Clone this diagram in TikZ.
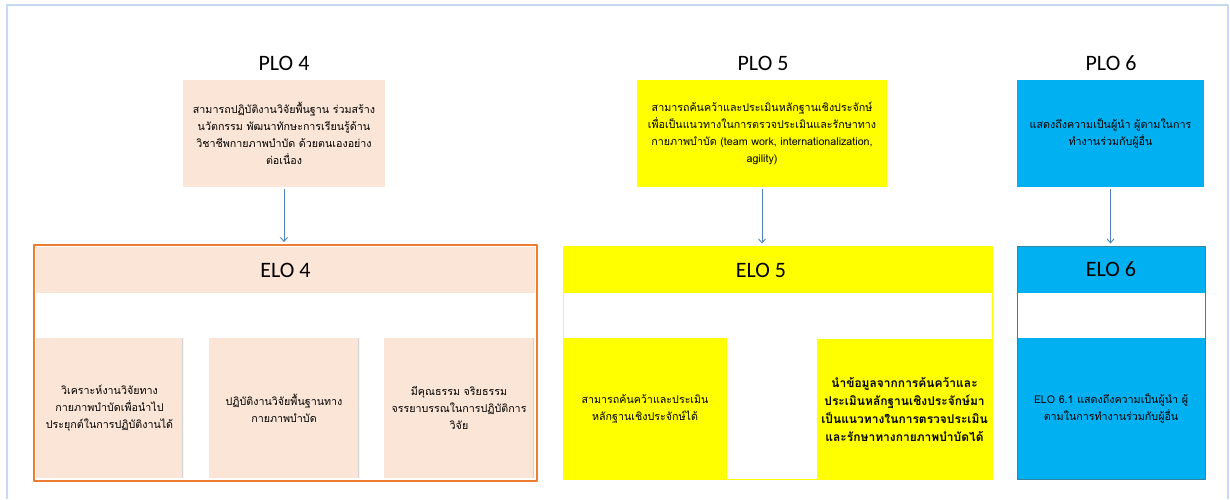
\documentclass[tikz,border=0pt]{standalone}
\usepackage{fontspec}
\setmainfont{Carlito}
\newfontfamily\thaifont[Script=Thai]{Loma}
\usetikzlibrary{arrows.meta}
\definecolor{peach}{HTML}{FBE5D6}
\definecolor{elorange}{HTML}{ED7D31}
\definecolor{eloyellow}{HTML}{FFFF00}
\definecolor{eloblue}{HTML}{00B0F0}
\definecolor{eloteal}{HTML}{31859C}
\definecolor{arrowblue}{HTML}{4F81BD}
\definecolor{frameblue}{HTML}{C6D9F1}
\tikzset{
  title/.style={font=\normalfont\fontsize{22}{26}\selectfont, inner sep=0pt},
  plobox/.style={inner sep=0pt, minimum height=107, align=center},
  headband/.style={inner sep=0pt, minimum height=46, font=\normalfont\fontsize{22}{26}\selectfont},
  subbox/.style={inner sep=0pt, minimum height=140, align=center},
  shade/.style={path picture={\draw[black!18, line width=1.5pt]
    (path picture bounding box.north east) -- (path picture bounding box.south east);}},
  link/.style={->, arrowblue, line width=0.9pt, shorten <=2pt, shorten >=2pt}
}
\begin{document}
\begin{tikzpicture}[x=1pt, y=-1pt, font=\thaifont\fontsize{10.7}{17}\selectfont,
  line join=round, >={Straight Barb[length=4pt,width=7pt]}]
 \useasboundingbox (0,0) rectangle (1230,499);
 \draw[frameblue, line width=1.5pt] (7,499) -- (7,5) -- (1228,5) -- (1228,499);
 % PLO row
 \node[title] (t4) at (284,63) {PLO 4};
 \node[title] (t5) at (763,63) {PLO 5};
 \node[title] (t6) at (1111,63) {PLO 6};
 \node[plobox, fill=peach, minimum width=202] (plo4) at (284,133.5)
  {สามารถปฏิบัติงานวิจัยพื้นฐาน ร่วมสร้าง\\นวัตกรรม พัฒนาทักษะการเรียนรู้ด้าน\\วิชาชีพกายภาพบำบัด ด้วยตนเองอย่าง\\ต่อเนื่อง};
 \node[plobox, fill=eloyellow, minimum width=250] (plo5) at (762,133.5)
  {สามารถค้นคว้าและประเมินหลักฐานเชิงประจักษ์\\เพื่อเป็นแนวทางในการตรวจประเมินและรักษาทาง\\กายภาพบำบัด (team work, internationalization,\\agility)};
 \node[plobox, fill=eloblue, minimum width=187] (plo6) at (1110.5,133.5)
  {แสดงถึงความเป็นผู้นำ ผู้ตามในการ\\ทำงานร่วมกับผู้อื่น};
 % ELO 4
 \node[draw=elorange, line width=1.8pt, fill=white, minimum width=503, minimum height=236, inner sep=0pt] (elo4) at (285.5,363) {};
 \node[headband, fill=peach, minimum width=499] (elo4head) at (285.5,270) {ELO 4};
 \node[subbox, shade, fill=peach, minimum width=147] (elo4a) at (109.5,408)
  {วิเคราะห์งานวิจัยทาง\\กายภาพบำบัดเพื่อนำไป\\ประยุกต์ในการปฏิบัติงานได้};
 \node[subbox, shade, fill=peach, minimum width=150] (elo4b) at (284,408)
  {ปฏิบัติงานวิจัยพื้นฐานทาง\\กายภาพบำบัด};
 \node[subbox, shade, fill=peach, minimum width=150] (elo4c) at (459,408)
  {มีคุณธรรม จริยธรรม\\จรรยาบรรณในการปฏิบัติการ\\วิจัย};
 % ELO 5
 \node[draw=eloyellow, line width=1pt, fill=white, minimum width=429, minimum height=233, inner sep=0pt] (elo5) at (777.5,362.5) {};
 \node[headband, fill=eloyellow, minimum width=429] (elo5head) at (777.5,269.5) {};
 \node[title] (elo5name) at (761,270) {ELO 5};
 \node[subbox, fill=eloyellow, minimum width=164, minimum height=141] (elo5a) at (645,408.5)
  {สามารถค้นคว้าและประเมิน\\หลักฐานเชิงประจักษ์ได้};
 \node[subbox, fill=eloyellow, minimum width=175, minimum height=141, font=\thaifont\bfseries\fontsize{12}{18}\selectfont] (elo5b) at (904.5,409.5)
  {นำข้อมูลจากการค้นคว้าและ\\ประเมินหลักฐานเชิงประจักษ์มา\\เป็นแนวทางในการตรวจประเมิน\\และรักษาทางกายภาพบำบัดได้};
 % ELO 6
 \node[draw=eloteal, line width=1pt, fill=white, minimum width=188, minimum height=233, inner sep=0pt] (elo6) at (1111,362.5) {};
 \node[headband, fill=eloblue, minimum width=187] (elo6head) at (1111,269.5) {ELO 6};
 \node[subbox, fill=eloblue, minimum width=187, minimum height=141] (elo6a) at (1111,408.5)
  {ELO 6.1 แสดงถึงความเป็นผู้นำ ผู้\\ตามในการทำงานร่วมกับผู้อื่น};
 % links
 \draw[link] (plo4.south) -- (plo4.south |- elo4.north);
 \draw[link] (plo5.south) -- (plo5.south |- elo5.north);
 \draw[link] (plo6.south) -- (plo6.south |- elo6.north);
\end{tikzpicture}
\end{document}
